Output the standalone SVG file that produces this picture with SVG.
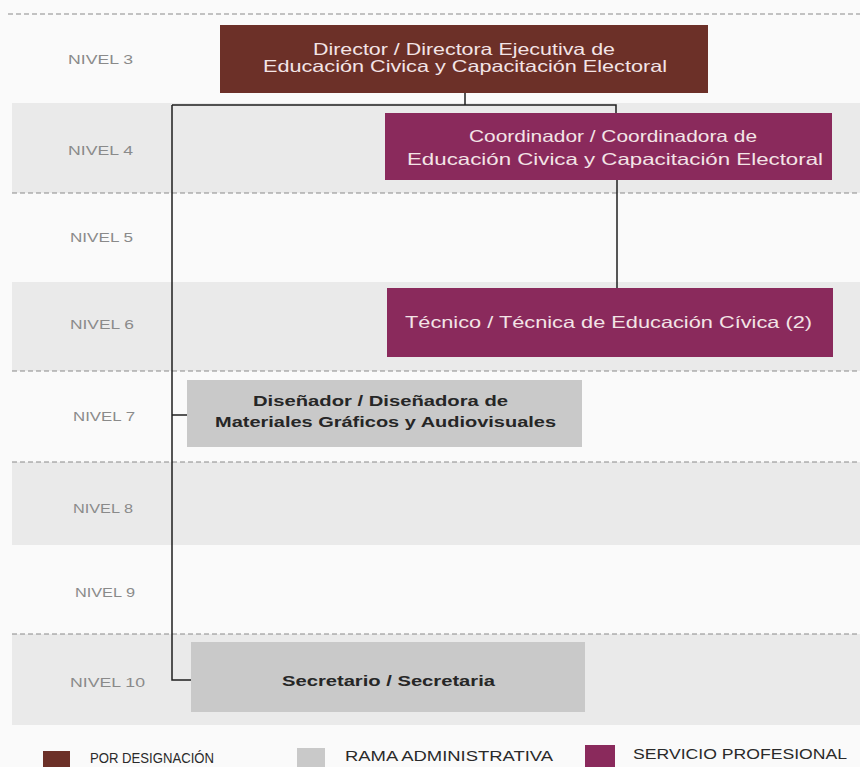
<svg xmlns="http://www.w3.org/2000/svg" width="860" height="767" viewBox="0 0 860 767">
<style>
.band{fill:#eaeaea}
.dash{stroke:#8a8a8a;stroke-width:1;stroke-dasharray:5,3;fill:none}
.lvl{font-family:"Liberation Sans",Arial,sans-serif;font-size:13.5px;fill:#8a8a8a}
.wt{font-family:"Liberation Sans",Arial,sans-serif;font-size:16.5px;fill:#f3e4e6}
.bt{font-family:"Liberation Sans",Arial,sans-serif;font-size:15px;font-weight:bold;fill:#262626}
.lg{font-family:"Liberation Sans",Arial,sans-serif;font-size:14px;fill:#2a2a2a}
.conn{stroke:#1f1f1f;stroke-width:1.5;fill:none}
.dir{fill:#6c3028}
.sp{fill:#8a2a5c}
.ra{fill:#c9c9c9}
</style>
<rect x="0" y="0" width="860" height="767" fill="#fafafa"/>
<g id="bands">
<rect class="band" x="12" y="103" width="848" height="90"/>
<rect class="band" x="12" y="282" width="848" height="89"/>
<rect class="band" x="12" y="462" width="848" height="83"/>
<rect class="band" x="12" y="634" width="848" height="91"/>
<line class="dash" x1="8" y1="14" x2="860" y2="14"/>
<line class="dash" x1="12" y1="193" x2="860" y2="193"/>
<line class="dash" x1="12" y1="371" x2="860" y2="371"/>
<line class="dash" x1="12" y1="462" x2="860" y2="462"/>
<line class="dash" x1="12" y1="634" x2="860" y2="634"/>
</g>
<g id="levels">
<text class="lvl" x="68" y="64" textLength="65" lengthAdjust="spacingAndGlyphs">NIVEL 3</text>
<text class="lvl" x="68" y="155" textLength="65" lengthAdjust="spacingAndGlyphs">NIVEL 4</text>
<text class="lvl" x="70" y="242" textLength="63" lengthAdjust="spacingAndGlyphs">NIVEL 5</text>
<text class="lvl" x="70" y="329" textLength="64" lengthAdjust="spacingAndGlyphs">NIVEL 6</text>
<text class="lvl" x="73" y="421" textLength="62" lengthAdjust="spacingAndGlyphs">NIVEL 7</text>
<text class="lvl" x="73" y="513" textLength="60" lengthAdjust="spacingAndGlyphs">NIVEL 8</text>
<text class="lvl" x="75" y="597" textLength="60" lengthAdjust="spacingAndGlyphs">NIVEL 9</text>
<text class="lvl" x="70" y="687" textLength="75" lengthAdjust="spacingAndGlyphs">NIVEL 10</text>
</g>
<g id="connectors">
<polyline class="conn" points="465,93 465,105"/>
<polyline class="conn" points="172,105 616,105 616,113"/>
<polyline class="conn" points="617,180 617,288"/>
<polyline class="conn" points="172,105 172,680 191,680"/>
<polyline class="conn" points="172,415 187,415"/>
</g>
<g id="director">
<rect class="dir" x="220" y="25" width="488" height="68"/>
<text class="wt" x="313" y="55" textLength="302" lengthAdjust="spacingAndGlyphs">Director / Directora Ejecutiva de</text>
<text class="wt" x="263" y="72" textLength="404" lengthAdjust="spacingAndGlyphs">Educación Civica y Capacitación Electoral</text>
</g>
<g id="coordinador">
<rect class="sp" x="385" y="113" width="447" height="67"/>
<text class="wt" x="469" y="142" textLength="288" lengthAdjust="spacingAndGlyphs">Coordinador / Coordinadora de</text>
<text class="wt" x="407" y="165" textLength="416" lengthAdjust="spacingAndGlyphs">Educación Civica y Capacitación Electoral</text>
</g>
<g id="tecnico">
<rect class="sp" x="387" y="288" width="446" height="69"/>
<text class="wt" x="405" y="328" textLength="407" lengthAdjust="spacingAndGlyphs">Técnico / Técnica de Educación Cívica (2)</text>
</g>
<g id="disenador">
<rect class="ra" x="187" y="380" width="395" height="67"/>
<text class="bt" x="253" y="406" textLength="255" lengthAdjust="spacingAndGlyphs">Diseñador / Diseñadora de</text>
<text class="bt" x="215" y="427" textLength="341" lengthAdjust="spacingAndGlyphs">Materiales Gráficos y Audiovisuales</text>
</g>
<g id="secretario">
<rect class="ra" x="191" y="642" width="394" height="70"/>
<text class="bt" x="282" y="686" textLength="213" lengthAdjust="spacingAndGlyphs">Secretario / Secretaria</text>
</g>
<g id="legend">
<rect class="dir" x="43" y="751" width="27" height="16"/>
<text class="lg" x="90" y="763" textLength="124" lengthAdjust="spacingAndGlyphs" style="font-size:15px">POR DESIGNACIÓN</text>
<rect class="ra" x="297" y="748" width="28" height="19"/>
<text class="lg" x="345" y="761" textLength="208" lengthAdjust="spacingAndGlyphs">RAMA ADMINISTRATIVA</text>
<rect class="sp" x="585" y="745" width="30" height="22"/>
<text class="lg" x="633" y="759" textLength="214" lengthAdjust="spacingAndGlyphs">SERVICIO PROFESIONAL</text>
</g>
</svg>
